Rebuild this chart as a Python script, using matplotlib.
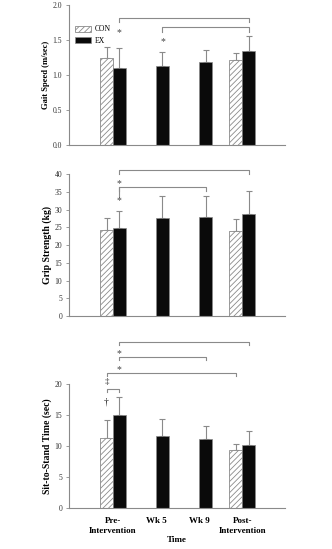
import matplotlib
matplotlib.use("Agg")
import matplotlib.pyplot as plt
import numpy as np
from matplotlib.patches import Patch

plt.rcParams['font.family'] = ['Liberation Serif', 'DejaVu Serif']
plt.rcParams['hatch.color'] = '#777777'
plt.rcParams['hatch.linewidth'] = 0.6

categories = ["Pre-\nIntervention", "Wk 5", "Wk 9", "Post-\nIntervention"]
groups = ["CON", "EX"]

gait_con = [1.24, None, None, 1.21]
gait_con_err = [0.16, None, None, 0.10]
gait_ex = [1.10, 1.13, 1.19, 1.34]
gait_ex_err = [0.28, 0.20, 0.16, 0.22]

grip_con = [24.3, None, None, 24.0]
grip_con_err = [3.3, None, None, 3.4]
grip_ex = [24.9, 27.8, 28.0, 28.9]
grip_ex_err = [4.7, 6.0, 5.8, 6.3]

sts_con = [11.3, None, None, 9.4]
sts_con_err = [2.9, None, None, 1.0]
sts_ex = [15.1, 11.7, 11.2, 10.1]
sts_ex_err = [2.9, 2.6, 2.1, 2.4]

fig = plt.figure(figsize=(3.32, 5.49), dpi=100)
W = 0.3
GRAY = '#8a8a8a'

def panel(rect, con, con_err, ex, ex_err, ymax, yticks, ylabel, fmt, lsize):
    ax = fig.add_axes(rect)
    x = np.arange(len(categories))
    for i in range(len(categories)):
        if con[i] is not None:
            ax.bar(x[i] - W/2, con[i], W, color='white', edgecolor=GRAY,
                   hatch='//////', linewidth=0.6, zorder=2)
            ax.errorbar(x[i] - W/2, con[i], yerr=[[0], [con_err[i]]], ecolor=GRAY,
                        elinewidth=0.8, capsize=2.5, capthick=0.8, fmt='none', zorder=1)
        ax.bar(x[i] + W/2, ex[i], W, color='#0a0a0a', edgecolor=GRAY, linewidth=0.5, zorder=2)
        ax.errorbar(x[i] + W/2, ex[i], yerr=[[0], [ex_err[i]]], ecolor=GRAY,
                    elinewidth=0.8, capsize=2.5, capthick=0.8, fmt='none', zorder=1)
    ax.set_xlim(-1.02, 4.0)
    ax.set_ylim(0, ymax)
    ax.set_yticks(yticks)
    ax.set_yticklabels([fmt.format(v) for v in yticks], fontsize=5.5, color='#333333')
    ax.tick_params(axis='y', length=2, width=0.6, color=GRAY, pad=3)
    ax.tick_params(axis='x', length=0)
    for s in ['top', 'right']:
        ax.spines[s].set_visible(False)
    for s in ['left', 'bottom']:
        ax.spines[s].set_color(GRAY)
        ax.spines[s].set_linewidth(0.8)
    ax.set_ylabel(ylabel, fontsize=lsize, fontweight='bold', labelpad=2)
    ax.patch.set_alpha(0)
    return ax

def bracket(ax, x1, x2, y, drop, lw=0.8):
    ax.plot([x1, x1, x2, x2], [y - drop, y, y, y - drop], color=GRAY, lw=lw,
            clip_on=False, zorder=3)

# Panel 1: gait speed
ax1 = panel([0.208, 0.736, 0.651, 0.255], gait_con, gait_con_err, gait_ex, gait_ex_err,
            2.0, [0.0, 0.5, 1.0, 1.5, 2.0], "Gait Speed (m/sec)", "{:.1f}", 6.2)
ax1.set_xticks([])
bracket(ax1, 0 + W/2, 3 + W/2, 1.82, 0.06)
bracket(ax1, 1 + W/2, 3 + W/2, 1.69, 0.07)
ax1.text(0 + W/2, 1.60, "*", fontsize=7, ha='center', va='center', color='#444444')
ax1.text(1 + W/2, 1.48, "*", fontsize=7, ha='center', va='center', color='#444444')
h = [Patch(facecolor='white', edgecolor=GRAY, hatch='//////', linewidth=0.6),
     Patch(facecolor='#0a0a0a', edgecolor=GRAY, linewidth=0.5)]
ax1.legend(h, groups, loc='upper left', bbox_to_anchor=(0.015, 0.875), frameon=False,
           fontsize=5.5, handlelength=2.1, handleheight=0.9, handletextpad=0.5,
           labelspacing=0.45, borderaxespad=0.0)

# Panel 2: grip strength
ax2 = panel([0.208, 0.4244, 0.651, 0.258], grip_con, grip_con_err, grip_ex, grip_ex_err,
            40, list(range(0, 41, 5)), "Grip Strength (kg)", "{:d}", 7)
ax2.set_xticks([])
bracket(ax2, 0 + W/2, 3 + W/2, 41.2, 1.2)
bracket(ax2, 0 + W/2, 2 + W/2, 36.3, 0.9)
ax2.plot([W/2, W/2], [36.3, 33.5], color=GRAY, lw=0.8, clip_on=False)
ax2.text(0 + W/2, 37.5, "*", fontsize=7, ha='center', va='center', color='#444444')
ax2.text(0 + W/2, 32.6, "*", fontsize=7, ha='center', va='center', color='#444444')

# Panel 3: sit-to-stand
ax3 = panel([0.208, 0.0752, 0.651, 0.2248], sts_con, sts_con_err, sts_ex, sts_ex_err,
            20, [0, 5, 10, 15, 20], "Sit-to-Stand Time (sec)", "{:d}", 7)
ax3.set_xticks(np.arange(len(categories)))
ax3.set_xticklabels(categories, fontsize=6.5, fontweight='bold')
ax3.tick_params(axis='x', pad=7)
ax3.set_xlabel("Time", fontsize=6.5, fontweight='bold', labelpad=1)
bracket(ax3, 0 + W/2, 3 + W/2, 26.8, 0.5)
bracket(ax3, 0 + W/2, 2 + W/2, 24.4, 0.5)
bracket(ax3, 0 - W/2, 3 - W/2, 21.9, 0.5)
bracket(ax3, 0 - W/2, 0 + W/2, 19.2, 0.5)
ax3.text(0 + W/2, 24.9, "*", fontsize=7, ha='center', va='center', color='#444444')
ax3.text(0 + W/2, 22.4, "*", fontsize=7, ha='center', va='center', color='#444444')
ax3.text(0 - W/2, 20.3, "\u2021", fontsize=6.5, ha='center', va='center', color='#222222')
ax3.text(0 - W/2, 17.2, "\u2020", fontsize=7, ha='center', va='center', color='#222222')

fig.savefig("out.png", dpi=100)
